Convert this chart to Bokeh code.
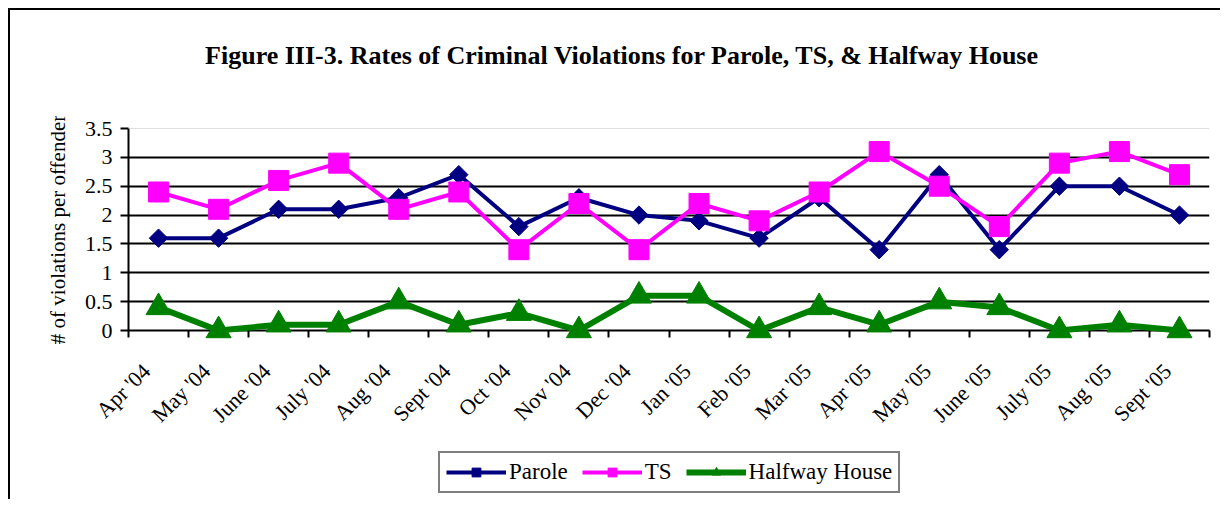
import numpy as np
from bokeh.plotting import figure
from bokeh.layouts import column
from bokeh.models import (Range1d, FixedTicker, CustomJSTickFormatter, NumeralTickFormatter,
                          Legend, LegendItem, Span, Label)
from bokeh.embed import file_html
from bokeh.resources import INLINE

months = ["Apr '04", "May '04", "June '04", "July '04", "Aug '04", "Sept '04",
          "Oct '04", "Nov '04", "Dec '04", "Jan '05", "Feb '05", "Mar '05",
          "Apr '05", "May '05", "June '05", "July '05", "Aug '05", "Sept '05"]
parole = [1.6, 1.6, 2.1, 2.1, 2.3, 2.7, 1.8, 2.3, 2.0, 1.9, 1.6, 2.3, 1.4, 2.7, 1.4, 2.5, 2.5, 2.0]
ts = [2.4, 2.1, 2.6, 2.9, 2.1, 2.4, 1.4, 2.2, 1.4, 2.2, 1.9, 2.4, 3.1, 2.5, 1.8, 2.9, 3.1, 2.7]
halfway = [0.4, 0.0, 0.1, 0.1, 0.5, 0.1, 0.3, 0.0, 0.6, 0.6, 0.0, 0.4, 0.1, 0.5, 0.4, 0.0, 0.1, 0.0]
y_ticks = [0, 0.5, 1, 1.5, 2, 2.5, 3, 3.5]

series_names = ["Parole", "TS", "Halfway House"]
series_colors = ["#000080", "#FF00FF", "#008000"]

title_text = "Figure III-3.  Rates of Criminal Violations for Parole, TS, & Halfway House"
y_title = "# of violations per offender"

FONT = "Liberation Serif"
n = len(months)
xs = [i + 0.5 for i in range(n)]
y_max = y_ticks[-1]

# ---------------- main chart ----------------
p = figure(width=1210, height=324, output_backend="svg", toolbar_location=None,
           x_range=Range1d(0, n), y_range=Range1d(0, y_max),
           min_border_left=118, min_border_right=11, min_border_top=12, min_border_bottom=110)
p.outline_line_color = None
p.background_fill_color = "white"
p.border_fill_color = "white"
p.title.text = ""
p.title.standoff = 0
p.title.text_font_size = "1px"

p.xgrid.visible = False
p.ygrid.ticker = FixedTicker(ticks=[t for t in y_ticks if 0 < t < y_max])
p.ygrid.grid_line_color = "black"
p.ygrid.grid_line_width = 2
p.add_layout(Span(location=y_max, dimension="width", line_color="#c0c0c0", line_width=1))

ya = p.yaxis[0]
ya.ticker = FixedTicker(ticks=y_ticks)
ya.formatter = NumeralTickFormatter(format="0.[0]")
ya.axis_line_width = 2
ya.major_tick_line_width = 2
ya.major_tick_out = 8
ya.major_tick_in = 0
ya.minor_tick_line_color = None
ya.major_label_text_font = FONT
ya.major_label_text_font_size = "22px"
ya.major_label_text_color = "black"
ya.major_label_standoff = 8
ya.axis_label = y_title
ya.axis_label_text_font = FONT
ya.axis_label_text_font_style = "normal"
ya.axis_label_text_font_size = "21px"
ya.axis_label_text_color = "black"
ya.axis_label_standoff = 12

label_shift = 0.2
xa = p.xaxis[0]
xa.ticker = FixedTicker(ticks=[x - label_shift for x in xs], minor_ticks=[float(i) for i in range(n + 1)])
xa.formatter = CustomJSTickFormatter(args=dict(labels=months), code="return labels[Math.floor(tick)];")
xa.major_label_orientation = np.pi / 4
xa.major_tick_line_color = None
xa.major_tick_out = 0
xa.major_tick_in = 0
xa.minor_tick_line_color = "black"
xa.minor_tick_line_width = 2
xa.minor_tick_out = 7
xa.minor_tick_in = 0
xa.axis_line_width = 2
xa.major_label_text_font = FONT
xa.major_label_text_font_size = "22px"
xa.major_label_text_color = "black"
xa.major_label_standoff = 30

def draw(fig):
    r = []
    r.append(fig.line(xs, parole, line_color=series_colors[0], line_width=4))
    r.append(fig.scatter(xs, parole, marker="square", angle=np.pi / 4, size=13, color=series_colors[0]))
    r.append(fig.line(xs, ts, line_color=series_colors[1], line_width=4))
    r.append(fig.scatter(xs, ts, marker="square", size=20, color=series_colors[1]))
    r.append(fig.line(xs, halfway, line_color=series_colors[2], line_width=6, level="overlay"))
    r.append(fig.scatter(xs, halfway, marker="triangle", size=25, color=series_colors[2], level="overlay"))
    return r

draw(p)

# ---------------- title strip ----------------
t = figure(width=1210, height=106, output_backend="svg", toolbar_location=None,
           x_range=p.x_range, y_range=Range1d(0, 1),
           x_axis_type=None, y_axis_type=None,
           min_border_left=0, min_border_right=0, min_border_top=0, min_border_bottom=0)
t.outline_line_color = None
t.grid.visible = False
t.background_fill_color = "white"
t.border_fill_color = "white"
t.title.text = ""
t.title.standoff = 0
t.title.text_font_size = "1px"
t.add_layout(Label(x=497, y=61, x_units="screen", y_units="screen", text=title_text,
                   text_font=FONT, text_font_style="bold", text_font_size="26px",
                   text_color="black", text_align="center", text_baseline="middle"))

# ---------------- legend strip (same series, legend only) ----------------
q = figure(width=1210, height=59, output_backend="svg", toolbar_location=None,
           x_range=p.x_range, y_range=Range1d(100, 101),
           x_axis_type=None, y_axis_type=None,
           min_border_left=0, min_border_right=0, min_border_top=0, min_border_bottom=0)
q.outline_line_color = None
q.grid.visible = False
q.background_fill_color = "white"
q.border_fill_color = "white"
rq = draw(q)

legend = Legend(items=[LegendItem(label=series_names[0], renderers=rq[0:2]),
                       LegendItem(label=series_names[1], renderers=rq[2:4]),
                       LegendItem(label=series_names[2], renderers=rq[4:6])],
                orientation="horizontal", location=(310, 6))
legend.label_text_font = FONT
legend.label_text_font_size = "23px"
legend.label_text_color = "black"
legend.border_line_color = "black"
legend.border_line_width = 2
legend.background_fill_alpha = 1
legend.glyph_width = 60
legend.glyph_height = 22
legend.label_standoff = 3
legend.spacing = 14
legend.padding = 6
legend.margin = 0
q.add_layout(legend)

layout = column(t, p, q, spacing=0,
                styles={"margin-left": "8px", "margin-top": "8px",
                        "border-left": "2px solid black", "border-top": "2px solid black"})

open("out.html", "w").write(file_html(layout, INLINE))
